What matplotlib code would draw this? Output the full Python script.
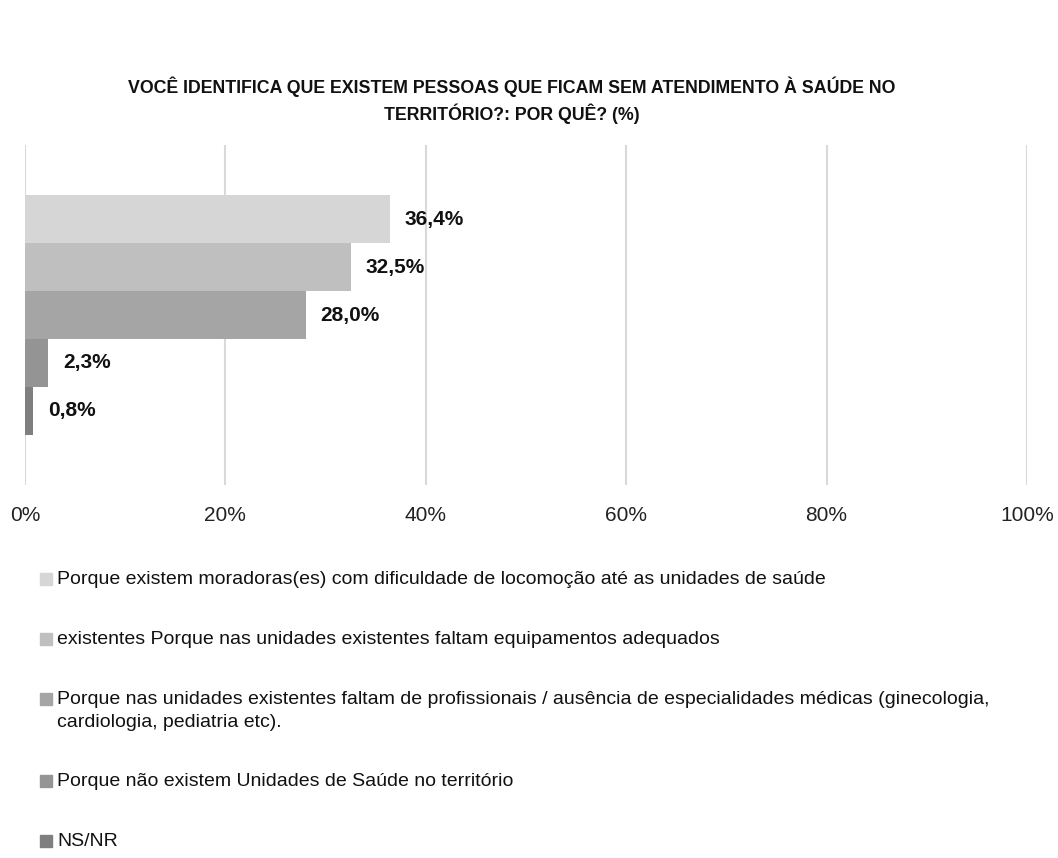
import matplotlib.pyplot as plt
from matplotlib.patches import Rectangle
import numpy as np

plt.rcParams["font.family"] = ["Liberation Sans Narrow", "Liberation Sans", "DejaVu Sans"]

title = ("VOCÊ IDENTIFICA QUE EXISTEM PESSOAS QUE FICAM SEM ATENDIMENTO À SAÚDE NO\n"
         "TERRITÓRIO?: POR QUÊ? (%)")
categories = [
    "Porque existem moradoras(es) com dificuldade de locomoção até as unidades de saúde",
    "existentes Porque nas unidades existentes faltam equipamentos adequados",
    "Porque nas unidades existentes faltam de profissionais / ausência de especialidades médicas (ginecologia,\ncardiologia, pediatria etc).",
    "Porque não existem Unidades de Saúde no território",
    "NS/NR",
]
values = [36.4, 32.5, 28.0, 2.3, 0.8]
colors = ["#d6d6d6", "#bfbfbf", "#a5a5a5", "#949494", "#7f7f7f"]
xticks = [0, 20, 40, 60, 80, 100]

fig = plt.figure(figsize=(10.58, 8.58), dpi=100)
ax = fig.add_axes([25 / 1058, 1 - 485 / 858, 1002 / 1058, 340 / 858])

y = np.arange(len(values))
ax.barh(y, values, height=1.0, color=colors, zorder=2)
for yi, v in zip(y, values):
    ax.text(v + 1.5, yi, f"{v:.1f}%".replace(".", ","), va="center", ha="left",
            fontsize=15, fontweight="bold", color="#111111")

ax.set_xlim(0, 100)
pad = (len(values) / 0.703 - len(values)) / 2
ax.set_ylim(len(values) - 0.5 + pad, -0.5 - pad)
ax.set_xticks(xticks)
ax.set_xticklabels([f"{t}%" for t in xticks], fontsize=15, color="#222222")
ax.tick_params(axis="x", length=0, pad=15)
ax.set_yticks([])
ax.grid(axis="x", color="#d9d9d9", linewidth=1.5, zorder=0)
for s in ax.spines.values():
    s.set_visible(False)

fig.text(512 / 1058, 1 - 100 / 858, title, ha="center", va="center",
         fontsize=12.8, fontweight="bold", linespacing=1.4, color="#111111")

# legend drawn by hand so the wrapped label keeps its marker on the first line
row_y = 579
for lab, c in zip(categories, colors):
    fy = 1 - row_y / 858
    fig.patches.append(Rectangle((40 / 1058, fy - 6 / 858), 12 / 1058, 12 / 858,
                                 transform=fig.transFigure, color=c))
    fig.text(57 / 1058, fy + 8 / 858, lab, ha="left", va="top", fontsize=14,
             linespacing=1.45, color="#111111")
    row_y += 60 + 22 * lab.count("\n")

fig.savefig("out.png", dpi=100)
